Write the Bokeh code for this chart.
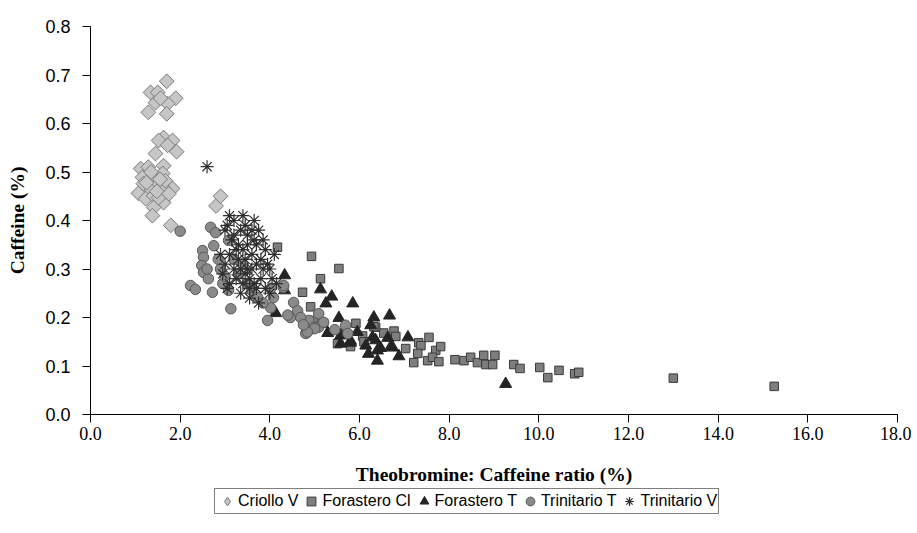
from bokeh.plotting import figure
from bokeh.layouts import column
from bokeh.models import FixedTicker, NumeralTickFormatter, Legend, LegendItem
from bokeh.embed import file_html
from bokeh.resources import INLINE
import math

# ---------------- data ----------------
criollo_x = [1.70, 1.34, 1.50, 1.45, 1.90, 1.72, 1.29, 1.70, 1.56,
             1.63, 1.52, 1.83, 1.72, 1.92, 1.45,
             1.12, 1.29, 1.63, 1.16, 1.41, 1.61, 1.29, 1.52, 1.83, 1.07,
             1.23, 1.41, 1.63, 1.41, 1.38, 1.79, 1.61, 1.67, 1.18, 1.52,
             1.35, 1.55, 1.48, 1.25, 1.75, 2.80, 2.90]
criollo_y = [0.687, 0.664, 0.664, 0.643, 0.652, 0.641, 0.623, 0.620, 0.652,
             0.571, 0.565, 0.565, 0.555, 0.542, 0.538,
             0.507, 0.510, 0.513, 0.489, 0.493, 0.497, 0.468, 0.476, 0.466, 0.456,
             0.445, 0.451, 0.437, 0.427, 0.410, 0.390, 0.468, 0.482, 0.476, 0.447,
             0.500, 0.485, 0.460, 0.478, 0.455, 0.430, 0.450]

forastero_cl_x = [4.17, 4.93, 5.54, 5.13, 4.73, 4.91, 5.20, 5.92, 6.07, 5.51,
                  6.54, 6.36, 5.69, 4.98, 5.02, 6.32, 6.77, 6.81, 7.03, 7.32,
                  7.37, 7.55, 7.70, 7.81, 7.30, 7.21, 7.52, 7.63, 7.77, 8.13,
                  8.33, 8.48, 8.63, 8.77, 8.82, 8.97, 9.02, 9.44, 9.58, 10.02,
                  10.20, 10.45, 10.80, 10.89, 13.00, 15.25, 6.10, 5.80]
forastero_cl_y = [0.345, 0.326, 0.301, 0.280, 0.252, 0.222, 0.188, 0.188, 0.162, 0.146,
                  0.168, 0.180, 0.167, 0.194, 0.180, 0.181, 0.172, 0.161, 0.136, 0.148,
                  0.142, 0.159, 0.132, 0.140, 0.126, 0.107, 0.111, 0.118, 0.109, 0.113,
                  0.111, 0.118, 0.107, 0.122, 0.103, 0.103, 0.122, 0.103, 0.095, 0.097,
                  0.076, 0.091, 0.084, 0.087, 0.075, 0.058, 0.150, 0.140]

forastero_t_x = [4.33, 4.33, 4.13, 5.13, 5.38, 5.25, 5.85, 5.54, 5.29, 5.58,
                 5.80, 6.32, 6.25, 6.36, 6.40, 6.40, 6.67, 5.58, 6.14, 6.63,
                 7.08, 6.88, 6.47, 6.74, 6.29, 9.26, 5.80, 6.70, 6.20, 5.95]
forastero_t_y = [0.287, 0.256, 0.209, 0.258, 0.243, 0.229, 0.229, 0.199, 0.168, 0.163,
                 0.152, 0.200, 0.184, 0.153, 0.132, 0.111, 0.204, 0.146, 0.142, 0.158,
                 0.159, 0.120, 0.137, 0.138, 0.159, 0.063, 0.148, 0.140, 0.125, 0.170]

trinitario_t_x = [2.00, 2.68, 2.79, 2.50, 2.52, 2.48, 2.52, 2.23, 2.34, 2.72,
                  3.13, 2.75, 3.08, 2.63, 2.90, 3.08, 3.95, 4.02, 3.73, 4.30,
                  4.08, 4.53, 4.46, 4.62, 4.87, 4.98, 4.80, 5.09, 4.02, 4.31,
                  5.69, 5.74, 5.09, 4.69, 5.00, 4.84, 3.30, 3.50, 3.20, 3.60,
                  2.95, 3.85, 4.40, 4.75, 5.20, 5.45, 3.40, 3.00, 2.85, 2.60]
trinitario_t_y = [0.378, 0.386, 0.375, 0.338, 0.324, 0.307, 0.293, 0.266, 0.258, 0.252,
                  0.218, 0.348, 0.359, 0.280, 0.300, 0.256, 0.194, 0.220, 0.241, 0.262,
                  0.241, 0.231, 0.200, 0.214, 0.194, 0.180, 0.167, 0.208, 0.260, 0.266,
                  0.184, 0.167, 0.180, 0.200, 0.177, 0.170, 0.290, 0.270, 0.320, 0.255,
                  0.270, 0.230, 0.205, 0.185, 0.190, 0.175, 0.310, 0.285, 0.320, 0.300]

trinitario_v_x = [2.60, 3.00, 3.05, 3.10, 3.20, 3.15, 3.10, 3.00, 3.20, 3.25,
                  3.10, 3.30, 3.35, 3.40, 3.45, 3.50, 3.40, 3.45, 3.50, 3.55,
                  3.40, 3.35, 3.60, 3.65, 3.70, 3.75, 3.60, 3.65, 3.70, 3.55,
                  3.80, 3.85, 3.90, 3.95, 3.80, 3.90, 4.00, 4.05, 4.00, 3.75,
                  3.30, 3.25, 2.90, 2.95, 3.05, 3.50, 3.70, 3.45, 3.60, 3.20,
                  3.85, 3.55, 3.35, 3.65, 4.10, 4.15]
trinitario_v_y = [0.511, 0.380, 0.390, 0.410, 0.400, 0.360, 0.330, 0.310, 0.300, 0.280,
                  0.270, 0.350, 0.380, 0.410, 0.390, 0.370, 0.340, 0.320, 0.300, 0.280,
                  0.270, 0.250, 0.330, 0.360, 0.350, 0.380, 0.300, 0.270, 0.260, 0.240,
                  0.320, 0.300, 0.340, 0.310, 0.280, 0.260, 0.250, 0.280, 0.300, 0.230,
                  0.320, 0.340, 0.330, 0.290, 0.260, 0.350, 0.310, 0.290, 0.380, 0.370,
                  0.360, 0.260, 0.300, 0.400, 0.330, 0.270]

x_ticks = [0, 2, 4, 6, 8, 10, 12, 14, 16, 18]
y_ticks = [0.0, 0.1, 0.2, 0.3, 0.4, 0.5, 0.6, 0.7, 0.8]
series_names = ["Criollo V", "Forastero Cl", "Forastero T", "Trinitario T", "Trinitario V"]
x_title = "Theobromine: Caffeine ratio (%)"
y_title = "Caffeine (%)"

# marker styles (one per series)
styles = [
    dict(marker="square", size=10.5, angle=math.pi / 4, fill_color="#c6c6c6", line_color="#7a7a7a", line_width=1),
    dict(marker="square", size=8.5, fill_color="#7e7e7e", line_color="#3a3a3a", line_width=1),
    dict(marker="triangle", size=12, fill_color="#242424", line_color="#242424", line_width=1),
    dict(marker="circle", size=10.5, fill_color="#8a8a8a", line_color="#575757", line_width=1),
    dict(marker="asterisk", size=13, line_color="#2e2e2e", line_width=1.2),
]
legend_styles = [dict(st) for st in styles]
legend_styles[0] = dict(marker="diamond", size=10.5, fill_color="#c6c6c6", line_color="#7a7a7a", line_width=1)

series_x = [criollo_x, forastero_cl_x, forastero_t_x, trinitario_t_x, trinitario_v_x]
series_y = [criollo_y, forastero_cl_y, forastero_t_y, trinitario_t_y, trinitario_v_y]

# ---------------- main figure ----------------
p = figure(title=None, frame_width=807, frame_height=388, x_range=(0, 18), y_range=(0, 0.8),
           output_backend="svg", toolbar_location=None,
           min_border_left=90, min_border_top=26, min_border_right=14, min_border_bottom=40)
p.outline_line_color = None
p.xgrid.grid_line_color = None
p.ygrid.grid_line_color = None

for xs, ys, st in zip(series_x, series_y, styles):
    p.scatter(xs, ys, **st)

for ax in (p.xaxis[0], p.yaxis[0]):
    ax.axis_line_color = "black"
    ax.major_tick_line_color = "black"
    ax.minor_tick_line_color = None
    ax.major_tick_out = 8
    ax.major_tick_in = 0
    ax.major_label_text_color = "black"
    ax.axis_label_text_color = "black"
    ax.axis_label_text_font = "Liberation Serif"
    ax.axis_label_text_font_style = "bold"
    ax.axis_label_text_font_size = "19.5px"
    ax.formatter = NumeralTickFormatter(format="0.0")

p.xaxis.ticker = FixedTicker(ticks=x_ticks)
p.yaxis.ticker = FixedTicker(ticks=y_ticks)
p.xaxis.major_label_text_font = "Liberation Serif"
p.xaxis.major_label_text_font_size = "18px"
p.yaxis.major_label_text_font = "Liberation Sans"
p.yaxis.major_label_text_font_size = "18px"
p.xaxis.major_label_standoff = 4
p.yaxis.major_label_standoff = 12
p.xaxis.axis_label = x_title
p.xaxis.axis_label_standoff = 21
p.yaxis.axis_label = y_title
p.yaxis.axis_label_standoff = 14

# ---------------- legend strip below ----------------
lf = figure(title=None, width=911, height=30, x_range=(0, 1), y_range=(0, 1),
            output_backend="svg", toolbar_location=None,
            min_border=0, min_border_left=0, min_border_right=0,
            min_border_top=0, min_border_bottom=0)
lf.axis.visible = False
lf.xgrid.grid_line_color = None
lf.ygrid.grid_line_color = None
lf.outline_line_color = None
# one hidden point each (outside the strip's range) so that the legend can draw its glyphs
legend_renderers = [lf.scatter([-5], [-5], **st) for st in legend_styles]

legend = Legend(items=[LegendItem(label=n, renderers=[r]) for n, r in
                       zip(series_names, legend_renderers)],
                orientation="horizontal", location=(124, 3))
legend.label_text_font = "Liberation Sans"
legend.label_text_font_size = "16px"
legend.label_text_color = "black"
legend.glyph_width = 22
legend.glyph_height = 22
legend.label_standoff = 0
legend.spacing = 2
legend.padding = 1
legend.margin = 0
legend.border_line_color = "black"
legend.border_line_width = 1
legend.background_fill_color = "white"
legend.background_fill_alpha = 1
lf.add_layout(legend, "center")

layout = column(p, lf, spacing=0)
open("out.html", "w").write(file_html(layout, INLINE))
